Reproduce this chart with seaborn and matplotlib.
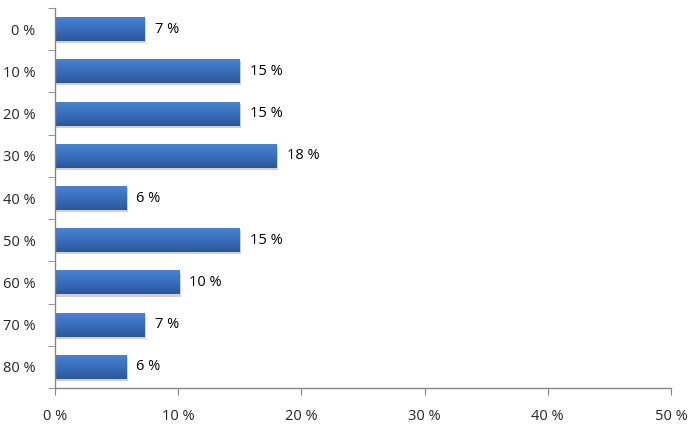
import numpy as np
import pandas as pd
import matplotlib
matplotlib.use("Agg")
import matplotlib.pyplot as plt
from matplotlib.colors import LinearSegmentedColormap
from matplotlib.ticker import FixedLocator
import seaborn as sns

categories = ["0 %", "10 %", "20 %", "30 %", "40 %", "50 %", "60 %", "70 %", "80 %"]
values = [7.3, 15.0, 15.0, 18.0, 5.8, 15.0, 10.1, 7.3, 5.8]
labels = ["7 %", "15 %", "15 %", "18 %", "6 %", "15 %", "10 %", "7 %", "6 %"]
x_ticks = [0, 10, 20, 30, 40, 50]

df = pd.DataFrame({"cat": categories, "val": values})

sns.set_style("white")
plt.rcParams["font.family"] = ["Open Sans", "DejaVu Sans"]

fig = plt.figure(figsize=(6.95, 4.25), dpi=100)
ax = fig.add_axes([55 / 695, 37 / 425, 616 / 695, 380 / 425])

sns.barplot(data=df, x="val", y="cat", order=categories, color="#3a6fbf",
            width=0.57, orient="h", ax=ax, edgecolor="none")

# excel style vertical gradient on each bar, light on top
cmap = LinearSegmentedColormap.from_list("bar", ["#4a85d0", "#3a6fbf", "#2b5797"])
grad = np.linspace(0, 1, 64).reshape(-1, 1)
bars = list(ax.patches)
for patch in bars:
    x0, y0 = patch.get_x(), patch.get_y()
    w, h = patch.get_width(), patch.get_height()
    # soft shadow under the bar
    ax.add_patch(plt.Rectangle((x0 + 0.1, y0 + 0.05), w, h, color="#d0d0d0",
                               zorder=1.5, lw=0))
    im = ax.imshow(grad, cmap=cmap, aspect="auto", origin="upper",
                   extent=(x0, x0 + w, y0 + h, y0), zorder=2.5)
    im.set_clip_path(patch)
    patch.set_zorder(2)

for patch, lab in zip(bars, labels):
    ax.text(patch.get_width() + 0.8, patch.get_y() + patch.get_height() / 2, lab,
            va="center", ha="left", fontsize=10.5, color="#000000")

ax.set_xlim(0, 50)
ax.set_ylim(len(categories) - 0.5, -0.5)
ax.set_xticks(x_ticks)
ax.set_xticklabels([f"{t} %" for t in x_ticks], fontsize=10.5)
ax.set_yticks(range(len(categories)))
ax.set_yticklabels(categories, fontsize=10.5)
ax.yaxis.set_minor_locator(FixedLocator(np.arange(-0.5, len(categories), 1)))
ax.tick_params(axis="y", which="major", length=0, pad=14)
ax.tick_params(axis="y", which="minor", length=5, color="#868686", left=True)
ax.tick_params(axis="x", length=5, color="#868686", bottom=True, pad=10)
ax.set_xlabel("")
ax.set_ylabel("")

for s in ["top", "right"]:
    ax.spines[s].set_visible(False)
for s in ["left", "bottom"]:
    ax.spines[s].set_color("#868686")
    ax.spines[s].set_linewidth(1)

fig.savefig("out.png", dpi=100)
plt.close()
